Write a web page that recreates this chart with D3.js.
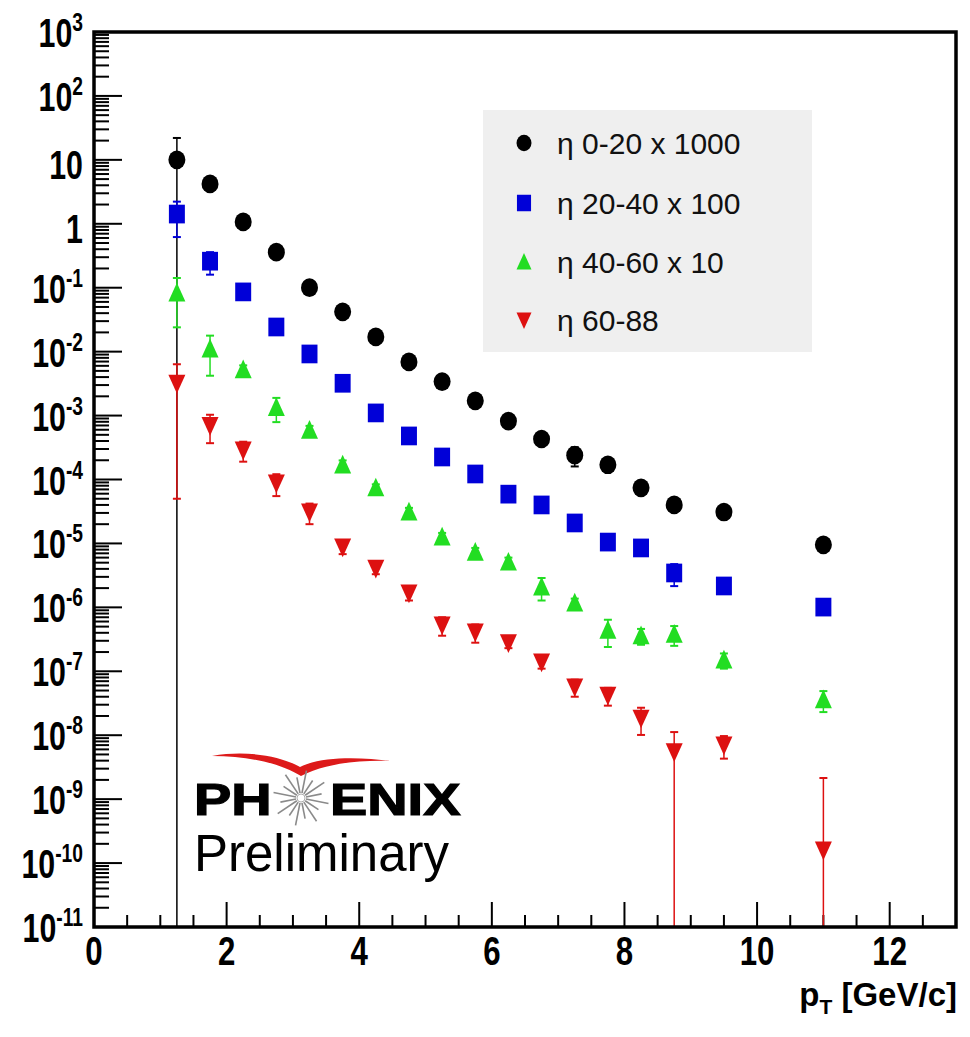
<!DOCTYPE html>
<html>
<head>
<meta charset="utf-8">
<script src="https://cdn.jsdelivr.net/npm/d3@7"></script>
<style>
  html, body { margin: 0; padding: 0; background: #fff; }
  svg { display: block; }
  text { font-family: "Liberation Sans", Arial, Helvetica, sans-serif; }
</style>
</head>
<body>
<svg id="chart" width="970" height="1037"></svg>
<script>
// Transverse-momentum bins (GeV/c)
const pt = [1.25, 1.75, 2.25, 2.75, 3.25, 3.75, 4.25, 4.75, 5.25, 5.75,
            6.25, 6.75, 7.25, 7.75, 8.25, 8.75, 9.5, 11];

// Scaled yields per centrality class
const eta0_20 = [10, 4.2, 1.07, 0.36, 0.10, 0.042, 0.017, 0.0069, 0.0034, 0.0017,
                 0.00082, 0.00043, 0.00024, 0.00017, 7.4e-5, 4.0e-5, 3.1e-5, 9.5e-6];
const eta0_20_err = [12, 0.5, 0.12, 0.04, 0.012, 0.005, 0.002, 0.0008, 0.0004, 0.0002,
                     0.0001, 5e-5, 8e-5, 2e-5, 1e-5, 6e-6, 4e-6, 1.2e-6];

const eta20_40 = [1.42, 0.26, 0.086, 0.0243, 0.0092, 0.0032, 0.0011, 0.00048, 0.000225, 0.000122,
                  5.9e-5, 4.0e-5, 2.09e-5, 1.05e-5, 8.5e-6, 3.45e-6, 2.16e-6, 1.01e-6];
const eta20_40_err = [0.8, 0.1, 0.01, 0.003, 0.001, 0.0004, 0.00012, 5e-5, 3e-5, 1.5e-5,
                      8e-6, 5e-6, 3e-6, 1.5e-6, 1.2e-6, 1.3e-6, 3e-7, 1.5e-7];

const eta40_60 = [0.083, 0.011, 0.0052, 0.00134, 0.00059, 0.000169, 7.4e-5, 3.1e-5, 1.26e-5, 7.3e-6,
                  5.1e-6, 2.08e-6, 1.17e-6, 4.4e-7, 3.6e-7, 3.8e-7, 1.5e-7, 3.6e-8];
const eta40_60_err = [0.059, 0.0068, 0.0009, 0.00055, 0.0001, 3e-5, 1e-5, 5e-6, 2e-6, 1.2e-6,
                      9e-7, 8e-7, 2e-7, 2e-7, 1e-7, 1.3e-7, 4e-8, 1.3e-8];

const eta60_88 = [0.0032, 0.0007, 0.00029, 8.8e-5, 3.1e-5, 8.8e-6, 4.1e-6, 1.68e-6, 5.3e-7, 4.1e-7,
                  2.8e-7, 1.4e-7, 5.7e-8, 4.2e-8, 1.85e-8, 5.5e-9, 7.0e-9, 1.6e-10];
const eta60_88_err = [0.00315, 0.00033, 0.0001, 3.3e-5, 1.1e-5, 2e-6, 8e-7, 4e-7, 1.7e-7, 1.3e-7,
                      5e-8, 3e-8, 1.7e-8, 1.3e-8, 8.4e-9, 5.7e-9, 2.7e-9, 1.98e-9];

const seriesNames = ["η 0-20 x 1000", "η 20-40 x 100", "η 40-60 x 10", "η 60-88"];
const seriesColors = ["#000000", "#0000d8", "#22dd22", "#dd1111"];
const seriesShapes = ["circle", "square", "triangle", "invtriangle"];
const seriesValues = [eta0_20, eta20_40, eta40_60, eta60_88];
const seriesErrors = [eta0_20_err, eta20_40_err, eta40_60_err, eta60_88_err];

// Axis tick labels
const xTickLabels = [0, 2, 4, 6, 8, 10, 12];
const yTickExponents = [3, 2, 1, 0, -1, -2, -3, -4, -5, -6, -7, -8, -9, -10, -11];

const svg = d3.select("#chart");
const L = 94, R = 956, T = 32, B = 927;

const x = d3.scaleLinear().domain([0, 13]).range([L, R]);
const y = d3.scaleLog().domain([1e-11, 1e3]).range([B, T]);

// ---- axis ticks ----
const ticks = svg.append("g").attr("stroke", "#000").attr("stroke-width", 2);

// x: every 0.5, longer at every 2
d3.range(0, 13.01, 0.5).forEach(v => {
  const major = Math.abs(v % 2) < 1e-9;
  ticks.append("line")
    .attr("x1", x(v)).attr("x2", x(v))
    .attr("y1", B).attr("y2", B - (major ? 25 : 12));
});

// y: decades long, 2..9 short
yTickExponents.forEach(e => {
  ticks.append("line")
    .attr("x1", L).attr("x2", L + 28)
    .attr("y1", y(Math.pow(10, e))).attr("y2", y(Math.pow(10, e)));
  if (e < 3) {
    for (let k = 2; k <= 9; k++) {
      const v = k * Math.pow(10, e);
      ticks.append("line")
        .attr("x1", L).attr("x2", L + 15)
        .attr("y1", y(v)).attr("y2", y(v));
    }
  }
});

// ---- tick labels ----
const labelSize = 41, labelSX = 0.74;
xTickLabels.forEach(v => {
  svg.append("g")
    .attr("transform", `translate(${x(v)},${B + 38}) scale(${labelSX + 0.04},1)`)
    .append("text")
    .attr("text-anchor", "middle")
    .attr("font-size", labelSize - 1).attr("font-weight", "bold")
    .text(v);
});

yTickExponents.forEach(e => {
  const g = svg.append("g")
    .attr("transform", `translate(83,${y(Math.pow(10, e)) + 15}) scale(${labelSX},1)`);
  const t = g.append("text")
    .attr("text-anchor", "end")
    .attr("font-size", labelSize).attr("font-weight", "bold");
  if (e === 0) {
    t.attr("dy", 4).text("1");
  } else if (e === 1) {
    t.attr("dy", 4).text("10");
  } else {
    t.append("tspan").text("10");
    t.append("tspan").attr("dy", -16).attr("font-size", 26).text(String(e));
  }
});

// ---- axis title ----
const title = svg.append("text")
  .attr("x", R + 1).attr("y", 1006)
  .attr("text-anchor", "end")
  .attr("font-size", 33).attr("font-weight", "bold");
title.append("tspan").text("p");
title.append("tspan").attr("font-size", 21).attr("dy", 8).text("T");
title.append("tspan").attr("dy", -8).text(" [GeV/c]");

// ---- markers ----
function markerPath(shape, s) {
  const p = d3.path();
  if (shape === "square") {
    p.rect(-s * 0.47, -s * 0.55, s * 0.94, s * 1.1);
  } else if (shape === "triangle") {
    p.moveTo(0, -s * 0.6); p.lineTo(s * 0.5, s * 0.5); p.lineTo(-s * 0.5, s * 0.5); p.closePath();
  } else {
    p.moveTo(0, s * 0.6); p.lineTo(s * 0.5, -s * 0.5); p.lineTo(-s * 0.5, -s * 0.5); p.closePath();
  }
  return p.toString();
}

function drawMarker(sel, shape, color, s) {
  if (shape === "circle") {
    sel.append("ellipse").attr("rx", s * 0.5).attr("ry", s * 0.55).attr("fill", color);
  } else {
    sel.append("path").attr("d", markerPath(shape, s)).attr("fill", color);
  }
}

const plot = svg.append("g");
seriesValues.forEach((vals, si) => {
  const color = seriesColors[si];
  const errs = seriesErrors[si];
  const g = plot.append("g");
  // error bars (lower end runs to the axis when it falls below the range)
  vals.forEach((v, i) => {
    const cx = x(pt[i]);
    const hi = v + errs[i];
    const lo = v - errs[i];
    const yHi = Math.max(T, y(hi));
    const yLo = lo > 1e-11 ? y(lo) : B;
    g.append("line").attr("x1", cx).attr("x2", cx).attr("y1", yHi).attr("y2", yLo)
      .attr("stroke", color).attr("stroke-width", 1.5);
    g.append("line").attr("x1", cx - 4).attr("x2", cx + 4).attr("y1", yHi).attr("y2", yHi)
      .attr("stroke", color).attr("stroke-width", 2);
    if (lo > 1e-11) {
      g.append("line").attr("x1", cx - 4).attr("x2", cx + 4).attr("y1", yLo).attr("y2", yLo)
        .attr("stroke", color).attr("stroke-width", 2);
    }
  });
  // markers
  vals.forEach((v, i) => {
    const m = g.append("g").attr("transform", `translate(${x(pt[i])},${y(v)})`);
    drawMarker(m, seriesShapes[si], color, 17);
  });
});

// ---- legend ----
const legend = svg.append("g");
legend.append("rect")
  .attr("x", 483).attr("y", 110).attr("width", 329).attr("height", 242)
  .attr("fill", "#efefef");
const legendRows = [143, 203, 262, 320];
seriesNames.forEach((name, i) => {
  const m = legend.append("g").attr("transform", `translate(524,${legendRows[i]})`);
  drawMarker(m, seriesShapes[i], seriesColors[i], 15);
  legend.append("text")
    .attr("x", 557).attr("y", legendRows[i] + 11)
    .attr("font-size", 30)
    .attr("fill", "#111")
    .text(name);
});

// ---- frame ----
svg.append("rect")
  .attr("x", L).attr("y", T).attr("width", R - L).attr("height", B - T)
  .attr("fill", "none").attr("stroke", "#000").attr("stroke-width", 3.5);

// ---- PHENIX Preliminary mark ----
const logo = svg.append("g");
logo.append("path")
  .attr("d", "M212,756 C250,749 285,758 300,767 C322,756 360,757 391,761 C360,760 326,763 301,776 C282,764 250,756 212,756 Z")
  .attr("fill", "#dd1a1a");
logo.append("g").attr("transform", "translate(194,815) scale(1.27,1)")
  .append("text").attr("font-size", 44).attr("font-weight", "bold")
  .attr("stroke", "#000").attr("stroke-width", 1.2).text("PH");
logo.append("g").attr("transform", "translate(330,815) scale(1.27,1)")
  .append("text").attr("font-size", 44).attr("font-weight", "bold")
  .attr("stroke", "#000").attr("stroke-width", 1.2).text("ENIX");
const star = logo.append("g").attr("transform", "translate(301,798)");
d3.range(16).forEach(k => {
  const a = k * Math.PI / 8 + Math.PI / 16;
  const r2 = k % 2 ? 21 : 28;
  star.append("line")
    .attr("x1", Math.cos(a) * 5).attr("y1", Math.sin(a) * 5)
    .attr("x2", Math.cos(a) * r2).attr("y2", Math.sin(a) * r2)
    .attr("stroke", "#8a8a8a").attr("stroke-width", 1.6);
});
star.append("circle").attr("r", 4).attr("fill", "#fff").attr("stroke", "#999").attr("stroke-width", 0.8);
logo.append("text")
  .attr("x", 194).attr("y", 871)
  .attr("font-size", 51)
  .text("Preliminary");
</script>
</body>
</html>
